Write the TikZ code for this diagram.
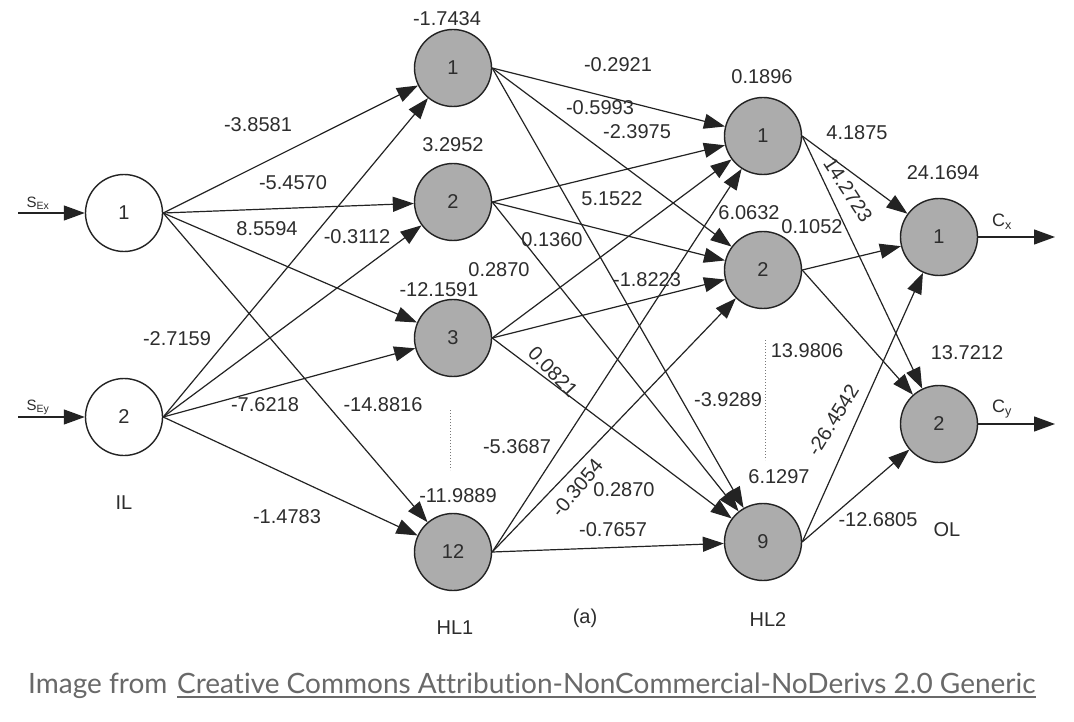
\documentclass[tikz,border=0pt]{standalone}
\usepackage{fontspec}
\setmainfont{Liberation Sans}
\newfontfamily\capfont[Ligatures={NoCommon}]{Lato}
\usetikzlibrary{arrows.meta}
\definecolor{txt}{RGB}{45,45,45}
\definecolor{ln}{RGB}{35,35,35}
\definecolor{nodefill}{RGB}{172,172,172}
\definecolor{capgray}{RGB}{105,105,105}
\definecolor{dotgray}{RGB}{120,120,120}
\begin{document}
\begin{tikzpicture}[x=1pt,y=-1pt,
  neuron/.style={circle, draw=ln, line width=1.4pt, minimum size=77pt, inner sep=0pt,
    font=\fontsize{20}{24}\selectfont, text=txt},
  inneuron/.style={neuron, fill=white},
  hidneuron/.style={neuron, fill=nodefill},
  wire/.style={draw=ln, line width=1.2pt, -{Triangle[length=21pt,width=15pt]}},
  wlabel/.style={font=\fontsize{20}{24}\selectfont, text=txt, inner sep=0pt},
  sublabel/.style={font=\fontsize{15}{17}\selectfont, text=txt, inner sep=0pt},
  dotline/.style={draw=dotgray, line width=1pt, dotted},
  captext/.style={font=\capfont\fontsize{28}{32}\selectfont, text=capgray, inner sep=0pt, anchor=base west},
]
\useasboundingbox (0,0) rectangle (1074,722);
\fill[white] (0,0) rectangle (1074,722);

% neurons
\node[inneuron] (i1) at (124,213) {1};
\node[inneuron] (i2) at (124,417) {2};
\node[hidneuron] (a1) at (453,68) {1};
\node[hidneuron] (a2) at (453,202) {2};
\node[hidneuron] (a3) at (453,338) {3};
\node[hidneuron] (a12) at (453,552) {12};
\node[hidneuron] (b1) at (763,136) {1};
\node[hidneuron] (b2) at (763,270) {2};
\node[hidneuron] (b9) at (763,542) {9};
\node[hidneuron] (o1) at (939,237) {1};
\node[hidneuron] (o2) at (939,424) {2};

% inputs / outputs
\coordinate (sx) at (18,213);
\coordinate (sy) at (18,417);
\coordinate (cx) at (1055,237);
\coordinate (cy) at (1055,424);
\draw[wire] (sx) -- (i1);
\draw[wire] (sy) -- (i2);
\draw[wire] (o1) -- (cx);
\draw[wire] (o2) -- (cy);
\node[sublabel] (lsx) at (38,203) {S\textsubscript{Ex}};
\node[sublabel] (lsy) at (38,407) {S\textsubscript{Ey}};
\node[sublabel, font=\fontsize{18}{20}\selectfont] (lcx) at (1002,222) {C\textsubscript{x}};
\node[sublabel, font=\fontsize{18}{20}\selectfont] (lcy) at (1002,409) {C\textsubscript{y}};

% connections
\foreach \s in {i1,i2}
  \foreach \t in {a1,a2,a3,a12}
    \draw[wire] (\s.east) -- (\t);
\foreach \s in {a1,a2,a3,a12}
  \foreach \t in {b1,b2,b9}
    \draw[wire] (\s.east) -- (\t);
\foreach \s in {b1,b2,b9}
  \foreach \t in {o1,o2}
    \draw[wire] (\s.east) -- (\t);

% dotted ellipsis lines
\coordinate (d1a) at (450,410);
\coordinate (d1b) at (450,470);
\coordinate (d2a) at (765,340);
\coordinate (d2b) at (765,460);
\draw[dotline] (d1a) -- (d1b);
\draw[dotline] (d2a) -- (d2b);

% biases
\node[wlabel] at (447,19) {-1.7434};
\node[wlabel] at (453,145) {3.2952};
\node[wlabel] at (439,290) {-12.1591};
\node[wlabel] at (458,496) {-11.9889};
\node[wlabel] at (762,77) {0.1896};
\node[wlabel] at (749,213) {6.0632};
\node[wlabel] at (779,477) {6.1297};
\node[wlabel] at (943,173) {24.1694};
\node[wlabel] at (967,353) {13.7212};

% IL -> HL1 weights
\node[wlabel] at (258,125) {-3.8581};
\node[wlabel] at (293,183) {-5.4570};
\node[wlabel] at (267,229) {8.5594};
\node[wlabel] at (357,237) {-0.3112};
\node[wlabel] at (177,339) {-2.7159};
\node[wlabel] at (265,405) {-7.6218};
\node[wlabel] at (383,405) {-14.8816};
\node[wlabel] at (287,517) {-1.4783};

% HL1 -> HL2 weights
\node[wlabel] at (618,65) {-0.2921};
\node[wlabel] at (600,108) {-0.5993};
\node[wlabel] at (637,132) {-2.3975};
\node[wlabel] at (612,199) {5.1522};
\node[wlabel] at (552,240) {0.1360};
\node[wlabel] at (499,270) {0.2870};
\node[wlabel] at (647,280) {-1.8223};
\node[wlabel, rotate=-46] at (553,372) {0.0821};
\node[wlabel] at (728,400) {-3.9289};
\node[wlabel] at (517,447) {-5.3687};
\node[wlabel, rotate=50] at (577,488) {-0.3054};
\node[wlabel] at (624,490) {0.2870};
\node[wlabel] at (613,530) {-0.7657};

% HL2 -> OL weights
\node[wlabel] at (857,133) {4.1875};
\node[wlabel, rotate=-57] at (848,190) {14.2723};
\node[wlabel] at (812,227) {0.1052};
\node[wlabel] at (807,351) {13.9806};
\node[wlabel, rotate=58] at (833,420) {-26.4542};
\node[wlabel] at (878,520) {-12.6805};

% layer labels
\node[wlabel] (lil) at (124,503) {IL};
\node[wlabel] (lhl1) at (455,628) {HL1};
\node[wlabel] (la) at (585,618) {(a)};
\node[wlabel] (lhl2) at (768,620) {HL2};
\node[wlabel] (lol) at (947,530) {OL};

% caption
\node[captext] (cap1) at (28,693) {Image from};
\node[captext] (cap2) at (177,693) {Creative Commons Attribution-NonCommercial-NoDerivs 2.0 Generic};
\draw[capgray, line width=1.3pt] ([yshift=-4pt]cap2.base west) -- ([yshift=-4pt]cap2.base east);
\end{tikzpicture}
\end{document}
